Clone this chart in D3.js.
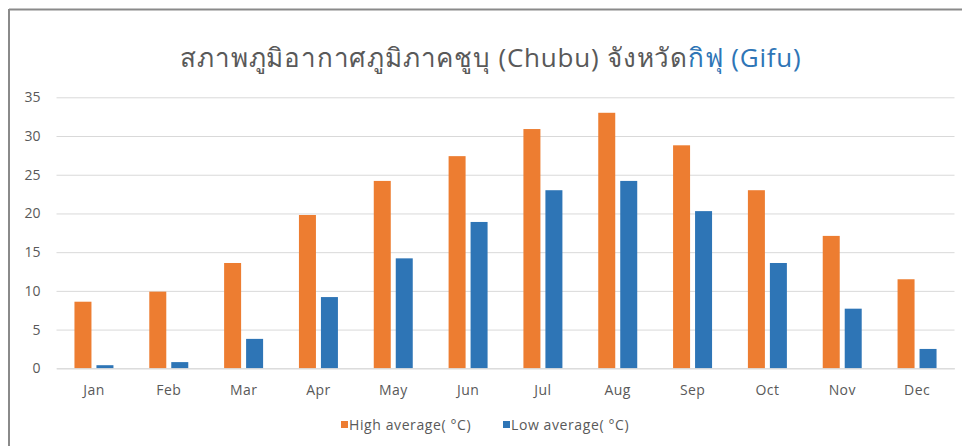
<!DOCTYPE html>
<html>
<head>
<meta charset="utf-8">
<script src="https://cdn.jsdelivr.net/npm/d3@7/dist/d3.min.js"></script>
<style>
  html, body { margin: 0; padding: 0; background: #fff; }
  svg { display: block; }
  text { font-family: "Segoe UI", "Open Sans", "Noto Sans", "DejaVu Sans", sans-serif; }
</style>
</head>
<body>
<svg id="chart" width="962" height="446"></svg>
<script>
const months = ["Jan","Feb","Mar","Apr","May","Jun","Jul","Aug","Sep","Oct","Nov","Dec"];
const highAvg = [8.6, 9.9, 13.6, 19.8, 24.2, 27.4, 30.9, 33.0, 28.8, 23.0, 17.1, 11.5];
const lowAvg  = [0.4, 0.8, 3.8, 9.2, 14.2, 18.9, 23.0, 24.2, 20.3, 13.6, 7.7, 2.5];
const yTicks = [0, 5, 10, 15, 20, 25, 30, 35];
const seriesNames = ["High average( °C)", "Low average( °C)"];
const titleMain = "สภาพภูมิอากาศภูมิภาคชูบุ (Chubu) จังหวัด";
const titleBlue = "กิฟุ (Gifu)";

const colors = ["#ED7D31", "#2E75B6"];
const svg = d3.select("#chart");
const W = 962, H = 446;
const m = {left: 56.5, right: 7.5, top: 97.3, bottom: 446 - 368.3};

// border (left & top only)
svg.append("line").attr("x1", 9).attr("x2", W).attr("y1", 9.5).attr("y2", 9.5)
  .attr("stroke", "#8a8a8a").attr("stroke-width", 2);
svg.append("line").attr("x1", 9).attr("x2", 9).attr("y1", 9).attr("y2", H)
  .attr("stroke", "#8a8a8a").attr("stroke-width", 2);

const x0 = d3.scaleBand().domain(months).range([m.left, W - m.right])
  .paddingInner(0.479).paddingOuter(0.24);
const x1 = d3.scaleBand().domain([0, 1]).range([0, x0.bandwidth()]).paddingInner(0.227);
const y = d3.scaleLinear().domain([0, 35]).range([H - m.bottom, m.top]);

// gridlines
const grid = svg.append("g").attr("transform", `translate(${m.left},0)`)
  .call(d3.axisLeft(y).tickValues(yTicks).tickSize(-(W - m.right - m.left)).tickFormat(""));
grid.select(".domain").remove();
grid.selectAll("line").attr("stroke", "#d9d9d9").attr("stroke-width", 1);

// y labels
const yAx = svg.append("g").attr("transform", `translate(${m.left},0)`)
  .call(d3.axisLeft(y).tickValues(yTicks).tickSize(0).tickPadding(16));
yAx.select(".domain").remove();
yAx.selectAll("text").attr("font-size", 14).attr("fill", "#595959");

// bars
const data = months.map((mo, i) => ({mo, vals: [highAvg[i], lowAvg[i]]}));
const gm = svg.append("g").selectAll("g").data(data).join("g")
  .attr("transform", d => `translate(${x0(d.mo)},0)`);
gm.selectAll("rect").data(d => d.vals.map((v, k) => ({v, k}))).join("rect")
  .attr("x", d => x1(d.k)).attr("width", x1.bandwidth())
  .attr("y", d => y(d.v)).attr("height", d => y(0) - y(d.v))
  .attr("fill", d => colors[d.k]);

// x axis
const xAx = svg.append("g").attr("transform", `translate(0,${y(0)})`)
  .call(d3.axisBottom(x0).tickSize(0).tickPadding(17));
xAx.select(".domain").attr("stroke", "#d9d9d9");
xAx.selectAll("text").attr("font-size", 14).attr("fill", "#595959")
  .attr("letter-spacing", 0.4);

// title
const t = svg.append("text").attr("x", 491).attr("y", 67).attr("text-anchor", "middle")
  .attr("font-size", 26).attr("letter-spacing", 0.8).attr("fill", "#595959");
t.append("tspan").text(titleMain);
t.append("tspan").attr("fill", "#2E75B6").text(titleBlue);

// legend
const lg = svg.append("g");
const legX = [341, 503];
seriesNames.forEach((n, k) => {
  lg.append("rect").attr("x", legX[k]).attr("y", 421).attr("width", 7).attr("height", 7).attr("fill", colors[k]);
  lg.append("text").attr("x", legX[k] + 8).attr("y", 429.5).attr("font-size", 14)
    .attr("letter-spacing", 0.6).attr("fill", "#595959").text(n);
});
</script>
</body>
</html>
